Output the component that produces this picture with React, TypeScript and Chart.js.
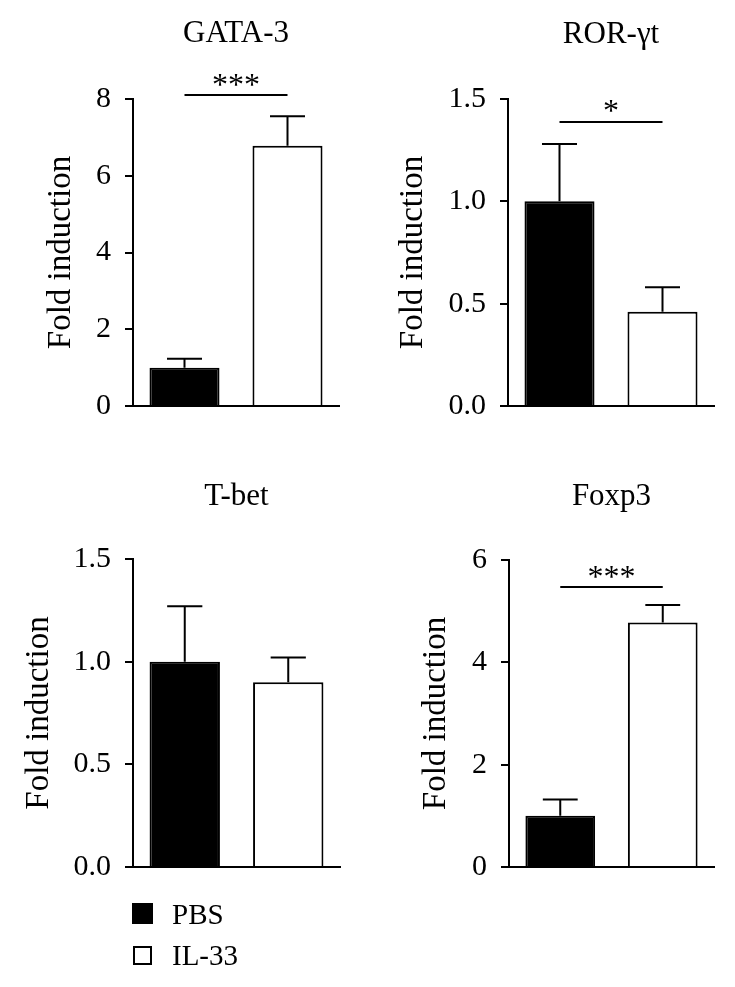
import React, { useEffect, useRef } from "react";
import { Chart, registerables } from "chart.js";

Chart.register(...registerables);

const FONT = "'Liberation Serif', 'Times New Roman', serif";

// ---- data ----
const GROUPS = ["PBS", "IL-33"];
const GROUP_FILLS = ["#000000", "#ffffff"];

const PANEL_TITLES = ["GATA-3", "ROR-γt", "T-bet", "Foxp3"];
const Y_LABEL = "Fold induction";

const GATA3_MEAN = [1.0, 6.78];
const GATA3_SEM = [0.23, 0.77];
const RORGT_MEAN = [1.0, 0.46];
const RORGT_SEM = [0.28, 0.12];
const TBET_MEAN = [1.0, 0.9];
const TBET_SEM = [0.27, 0.12];
const FOXP3_MEAN = [1.0, 4.78];
const FOXP3_SEM = [0.32, 0.34];

const Y_MAX = [8, 1.5, 1.5, 6];
const Y_STEP = [2, 0.5, 0.5, 2];
const Y_DECIMALS = [0, 1, 1, 0];

const SIG_LABELS = ["***", "*", "", "***"];
const SIG_LINE_Y = [8.11, 1.386, null, 5.48];
const SIG_TEXT_Y = [8.5, 1.466, null, 5.77];

const MEANS = [GATA3_MEAN, RORGT_MEAN, TBET_MEAN, FOXP3_MEAN];
const SEMS = [GATA3_SEM, RORGT_SEM, TBET_SEM, FOXP3_SEM];

// ---- layout (pixels) ----
const LAYOUT = [
  { x: 0, y: 0, w: 367, h: 440, left: 133, right: 339, top: 99, bottom: 406, titleBase: 42, labelX: 61.5 },
  { x: 367, y: 0, w: 368, h: 440, left: 141, right: 347, top: 99, bottom: 406, titleBase: 43, labelX: 46.5 },
  { x: 0, y: 460, w: 367, h: 440, left: 133, right: 340, top: 99, bottom: 407, titleBase: 45, labelX: 39 },
  { x: 367, y: 460, w: 368, h: 440, left: 142, right: 347, top: 100, bottom: 407, titleBase: 45, labelX: 69 },
];

const annotatePlugin = {
  id: "annotate",
  afterDatasetsDraw(chart: any, _args: any, opts: any) {
    const { ctx, chartArea, scales } = chart;
    const xs = scales.x;
    const ys = scales.y;
    const meta = chart.getDatasetMeta(0);
    ctx.save();
    ctx.strokeStyle = "#000";
    ctx.fillStyle = "#000";
    ctx.lineWidth = 2;
    ctx.lineCap = "butt";
    // error bars (upper only)
    opts.mean.forEach((m: number, i: number) => {
      const cx = xs.getPixelForValue(i);
      const yBar = ys.getPixelForValue(m);
      const yTop = ys.getPixelForValue(m + opts.sem[i]);
      const half = meta.data[i].width / 4;
      ctx.beginPath();
      ctx.moveTo(cx, yBar);
      ctx.lineTo(cx, yTop);
      ctx.moveTo(cx - half, yTop);
      ctx.lineTo(cx + half, yTop);
      ctx.stroke();
    });
    // significance
    if (opts.sigLabel) {
      const x0 = xs.getPixelForValue(0);
      const x1 = xs.getPixelForValue(1);
      const ly = Math.round(ys.getPixelForValue(opts.sigLineY));
      ctx.beginPath();
      ctx.moveTo(x0, ly);
      ctx.lineTo(x1, ly);
      ctx.stroke();
      ctx.font = `32px ${FONT}`;
      ctx.textAlign = "center";
      ctx.textBaseline = "alphabetic";
      const mt = ctx.measureText(opts.sigLabel);
      const target = ys.getPixelForValue(opts.sigTextY);
      const base = target + (mt.actualBoundingBoxAscent - mt.actualBoundingBoxDescent) / 2;
      ctx.fillText(opts.sigLabel, (x0 + x1) / 2, base);
    }
    // panel title
    ctx.font = `31px ${FONT}`;
    ctx.textAlign = "center";
    ctx.textBaseline = "alphabetic";
    ctx.fillText(opts.title, (chartArea.left + chartArea.right) / 2, opts.titleBase);
    ctx.restore();
  },
};

function Panel({ idx }: { idx: number }) {
  const ref = useRef<HTMLCanvasElement>(null);
  const L = LAYOUT[idx];
  useEffect(() => {
    if (!ref.current) return;
    const chart = new Chart(ref.current, {
      type: "bar",
      data: {
        labels: GROUPS,
        datasets: [
          {
            label: PANEL_TITLES[idx],
            data: MEANS[idx],
            backgroundColor: GROUP_FILLS,
            borderColor: "#000000",
            borderWidth: 2,
            borderSkipped: "start",
            barPercentage: 0.68,
            categoryPercentage: 1,
          },
        ],
      },
      options: {
        responsive: false,
        animation: false,
        devicePixelRatio: 1,
        events: [],
        layout: {
          padding: { left: 0, top: L.top, right: L.w - L.right, bottom: L.h - L.bottom },
        },
        plugins: {
          legend: { display: false },
          tooltip: { enabled: false },
          title: { display: false },
          annotate: {
            mean: MEANS[idx],
            sem: SEMS[idx],
            sigLabel: SIG_LABELS[idx],
            sigLineY: SIG_LINE_Y[idx],
            sigTextY: SIG_TEXT_Y[idx],
            title: PANEL_TITLES[idx],
            titleBase: L.titleBase,
          },
        } as any,
        scales: {
          x: {
            type: "category",
            ticks: { display: false },
            grid: { display: true, drawOnChartArea: false, drawTicks: false, lineWidth: 2, color: "#000" },
            border: { display: true, width: 2, color: "#000" },
          },
          y: {
            min: 0,
            max: Y_MAX[idx],
            afterFit: (scale: any) => {
              scale.width = L.left;
            },
            ticks: {
              stepSize: Y_STEP[idx],
              padding: 14,
              color: "#000",
              font: { family: FONT, size: 30 },
              callback: (v: any) => Number(v).toFixed(Y_DECIMALS[idx]),
            },
            grid: { display: true, drawOnChartArea: false, drawTicks: true, tickLength: 8, lineWidth: 2, color: "#000" },
            border: { display: true, width: 2, color: "#000" },
            title: {
              display: true,
              text: Y_LABEL,
              color: "#000",
              font: { family: FONT, size: 33 },
              padding: { top: L.labelX - 33 * 0.6, bottom: 0 },
            },
          },
        },
      },
      plugins: [annotatePlugin],
    });
    return () => chart.destroy();
  }, [idx]);
  return (
    <canvas
      ref={ref}
      width={L.w}
      height={L.h}
      style={{ position: "absolute", left: L.x, top: L.y, width: L.w, height: L.h }}
    />
  );
}

const LEGEND_POS = [
  { boxLeft: 132, boxTop: 903, size: 21, textTop: 900 },
  { boxLeft: 133, boxTop: 946, size: 19, textTop: 941 },
];

export default function App() {
  return (
    <div style={{ position: "absolute", left: 0, top: 0, width: 735, height: 987, background: "#fff" }}>
      {[0, 1, 2, 3].map((i) => (
        <Panel key={i} idx={i} />
      ))}
      {GROUPS.map((g, i) => {
        const P = LEGEND_POS[i];
        return (
          <React.Fragment key={g}>
            <div
              style={{
                position: "absolute",
                left: P.boxLeft,
                top: P.boxTop,
                width: P.size,
                height: P.size,
                boxSizing: "border-box",
                border: "2px solid #000",
                background: GROUP_FILLS[i],
              }}
            />
            <div
              style={{
                position: "absolute",
                left: 172,
                top: P.textTop,
                fontFamily: FONT,
                fontSize: 29,
                lineHeight: "29px",
                color: "#000",
                whiteSpace: "nowrap",
              }}
            >
              {g}
            </div>
          </React.Fragment>
        );
      })}
    </div>
  );
}
